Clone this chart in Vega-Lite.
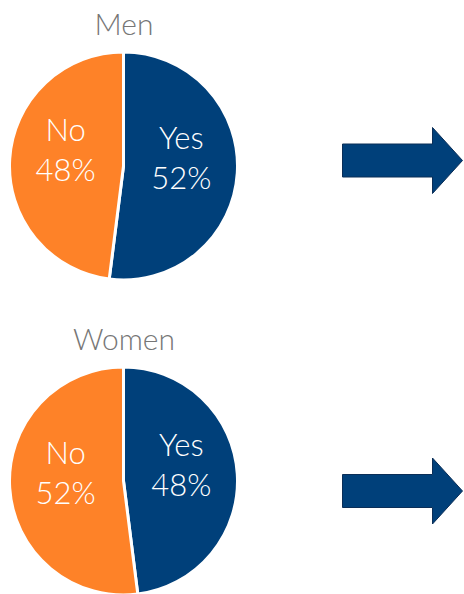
{
  "$schema": "https://vega.github.io/schema/vega-lite/v6.json",
  "padding": {"left": 3.5, "top": 11, "right": 0, "bottom": 0},
  "background": "white",
  "config": {"view": {"stroke": null}, "font": "Lato"},
  "data": {"values": [
    {"gender": "Men", "answer": "Yes", "pct": 52},
    {"gender": "Men", "answer": "No", "pct": 48},
    {"gender": "Women", "answer": "Yes", "pct": 48},
    {"gender": "Women", "answer": "No", "pct": 52}
  ]},
  "spacing": 40,
  "vconcat": [
    {
      "title": {"text": "Men", "anchor": "start", "align": "center", "dx": 120.5, "baseline": "alphabetic", "offset": -19, "fontSize": 30, "font": "Lato", "fontWeight": 300, "color": "#767676"},
      "spacing": 14,
      "hconcat": [
        {
          "width": 228, "height": 228,
          "transform": [
            {"filter": "datum.gender === 'Men'"},
            {"calculate": "datum.answer + '\\n' + datum.pct + '%'", "as": "label"}
          ],
          "encoding": {
            "theta": {"field": "pct", "type": "quantitative", "stack": true},
            "order": {"field": "answer", "sort": "descending"}
          },
          "layer": [
            {"mark": {"type": "arc", "stroke": "white", "strokeWidth": 3},
             "encoding": {"color": {"field": "answer", "type": "nominal", "scale": {"domain": ["Yes", "No"], "range": ["#00407A", "#FE8228"]}, "legend": null}}},
            {"mark": {"type": "text", "radius": 58, "dy": -30, "fill": "white", "fontSize": 31, "fontWeight": 300, "lineBreak": "\n", "lineHeight": 40, "font": "Lato"},
             "encoding": {"text": {"field": "label"}, "detail": {"field": "answer"}}}
          ]
        },
        {
          "width": 290, "height": 217,
          "data": {"values": [{"shape": "arrow"}]},
          "mark": {"type": "point", "shape": "M -1 -0.275 L 0.5 -0.275 L 0.5 -0.55 L 1 0 L 0.5 0.55 L 0.5 0.275 L -1 0.275 Z", "size": 14400, "filled": true, "fill": "#00407A", "stroke": "#0B2E57", "strokeWidth": 1, "opacity": 1},
          "encoding": {}
        }
      ]
    },
    {
      "title": {"text": "Women", "anchor": "start", "align": "center", "dx": 120.5, "baseline": "alphabetic", "offset": -19, "fontSize": 30, "font": "Lato", "fontWeight": 300, "color": "#767676"},
      "spacing": 14,
      "hconcat": [
        {
          "width": 228, "height": 228,
          "transform": [
            {"filter": "datum.gender === 'Women'"},
            {"calculate": "datum.answer + '\\n' + datum.pct + '%'", "as": "label"}
          ],
          "encoding": {
            "theta": {"field": "pct", "type": "quantitative", "stack": true},
            "order": {"field": "answer", "sort": "descending"}
          },
          "layer": [
            {"mark": {"type": "arc", "stroke": "white", "strokeWidth": 3},
             "encoding": {"color": {"field": "answer", "type": "nominal", "scale": {"domain": ["Yes", "No"], "range": ["#00407A", "#FE8228"]}, "legend": null}}},
            {"mark": {"type": "text", "radius": 58, "dy": -30, "fill": "white", "fontSize": 31, "fontWeight": 300, "lineBreak": "\n", "lineHeight": 40, "font": "Lato"},
             "encoding": {"text": {"field": "label"}, "detail": {"field": "answer"}}}
          ]
        },
        {
          "width": 290, "height": 248,
          "data": {"values": [{"shape": "arrow"}]},
          "mark": {"type": "point", "shape": "M -1 -0.275 L 0.5 -0.275 L 0.5 -0.55 L 1 0 L 0.5 0.55 L 0.5 0.275 L -1 0.275 Z", "size": 14400, "filled": true, "fill": "#00407A", "stroke": "#0B2E57", "strokeWidth": 1, "opacity": 1},
          "encoding": {}
        }
      ]
    }
  ]
}
